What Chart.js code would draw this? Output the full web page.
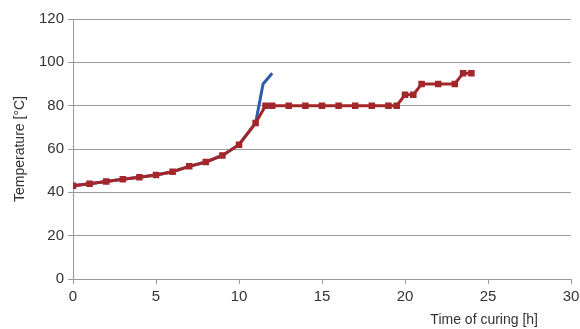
<!DOCTYPE html>
<html>
<head>
<meta charset="utf-8">
<script src="https://cdn.jsdelivr.net/npm/chart.js@4"></script>
<style>
  html, body { margin: 0; padding: 0; background: #fff; }
  #wrap { width: 580px; height: 329px; }
</style>
</head>
<body>
<div id="wrap"><canvas id="curing"></canvas></div>
<script>
// hours and temperatures
const redHours = [0, 1, 2, 3, 4, 5, 6, 7, 8, 9, 10, 11, 11.6, 12, 13, 14, 15, 16, 17, 18, 19, 19.5, 20, 20.5, 21, 22, 23, 23.5, 24];
const redTemps = [43, 44, 45, 46, 47, 48, 49.5, 52, 54, 57, 62, 72, 80, 80, 80, 80, 80, 80, 80, 80, 80, 80, 85, 85, 90, 90, 90, 95, 95];
const blueHours = [0, 1, 2, 3, 4, 5, 6, 7, 8, 9, 10, 11, 11.45, 12];
const blueTemps = [43, 44, 45, 46, 47, 48, 49.5, 52, 54, 57, 62, 72, 90, 95];
const yTicks = [0, 20, 40, 60, 80, 100, 120];
const xTicks = [0, 5, 10, 15, 20, 25, 30];
const xTitle = 'Time of curing [h]';

const toPoints = (xs, ys) => xs.map((x, i) => ({ x: x, y: ys[i] }));

const ctx = document.getElementById('curing').getContext('2d');
const txt = '#333';
const font = { family: 'Liberation Sans', size: 15 };

// x title sits a bit left of the axis end, like in the original
const xTitlePlugin = {
    id: 'xTitle',
    afterDraw(chart) {
        const c = chart.ctx;
        c.save();
        c.font = '14px "Liberation Sans"';
        c.fillStyle = txt;
        c.textAlign = 'right';
        c.textBaseline = 'middle';
        c.fillText(xTitle, chart.chartArea.right - 33, 320);
        c.restore();
    }
};

var curingChart = new Chart(ctx, {
    type: 'line',
    data: {
        datasets: [{
            label: 'Curing',
            data: toPoints(redHours, redTemps),
            borderColor: '#a3262b',
            backgroundColor: '#a3262b',
            borderWidth: 3,
            pointStyle: 'rect',
            pointRadius: 2.5,
            pointHoverRadius: 2.5,
            tension: 0,
            order: 1
        }, {
            label: 'Runaway',
            data: toPoints(blueHours, blueTemps),
            borderColor: '#2d5daa',
            backgroundColor: '#2d5daa',
            borderWidth: 3,
            pointRadius: 0,
            tension: 0,
            order: 2
        }]
    },
    plugins: [xTitlePlugin],
    options: {
        responsive: true,
        maintainAspectRatio: false,
        animation: false,
        layout: { padding: { top: 19, right: 9, left: 0, bottom: 0 } },
        plugins: { legend: { display: false }, tooltip: { enabled: false } },
        scales: {
            x: {
                type: 'linear',
                min: 0,
                max: 30,
                afterBuildTicks: axis => { axis.ticks = xTicks.map(v => ({ value: v })); },
                afterFit: axis => { axis.height = 50; axis.paddingRight = 0; },
                ticks: { color: txt, font: font, padding: 4, maxRotation: 0 },
                grid: { drawOnChartArea: false, drawTicks: true, tickLength: 5, color: '#999' },
                border: { color: '#999' },
                title: { display: false }
            },
            y: {
                min: 0,
                max: 120,
                afterBuildTicks: axis => { axis.ticks = yTicks.map(v => ({ value: v })); },
                afterFit: axis => { axis.width = 73; },
                ticks: { color: txt, font: font, padding: 4 },
                grid: { color: '#9a9a9a', tickLength: 5, lineWidth: 1 },
                border: { color: '#999' },
                title: {
                    display: true,
                    text: 'Temperature [°C]',
                    color: txt,
                    font: { family: 'Liberation Sans', size: 14 },
                    padding: { top: 12, bottom: 0 }
                }
            }
        }
    }
});
</script>
</body>
</html>
